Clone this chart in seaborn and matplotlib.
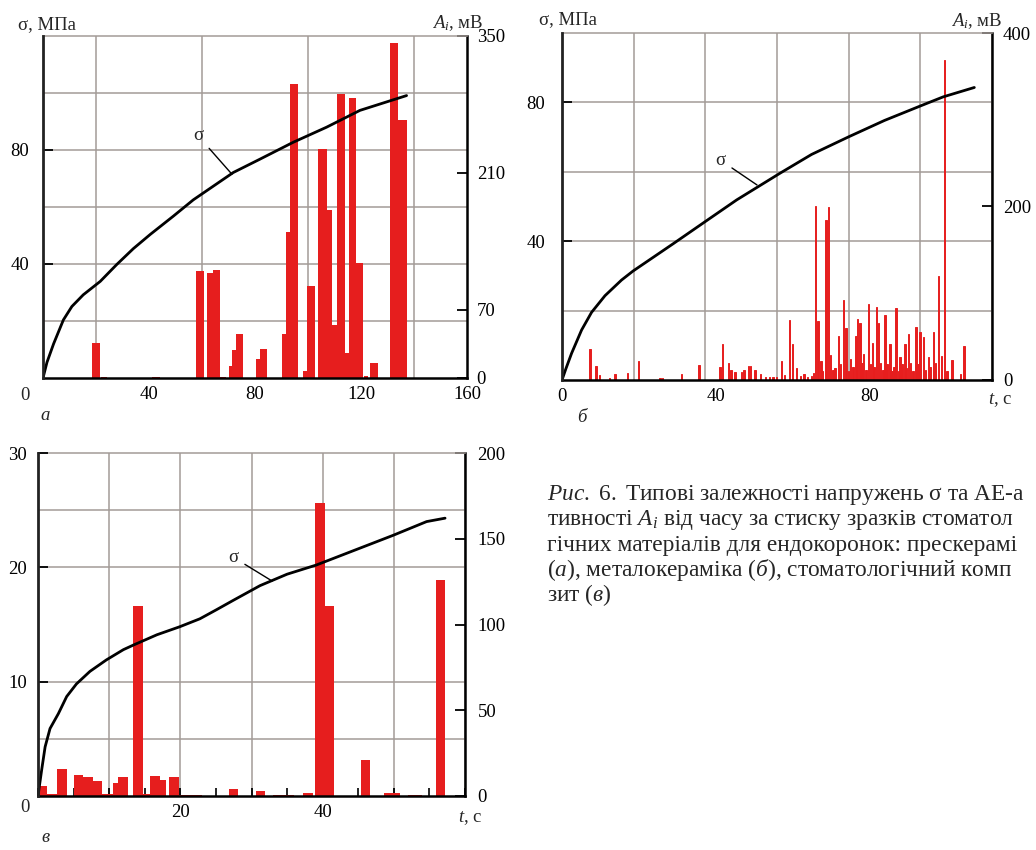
import numpy as np
import pandas as pd
import matplotlib
matplotlib.use("Agg")
import matplotlib.pyplot as plt
import seaborn as sns

# ---------------- data ----------------
# panel а (прескераміка)
a_curve_t = [0, 1.5, 4.0, 7.7, 10.9, 15.2, 21.6, 27.8, 34.1, 40.5, 49.2, 56.7, 71.8, 81.9, 94.4, 107, 119.6, 137.2]
a_curve_s = [0, 5.5, 12, 20.4, 25.1, 29.2, 33.9, 39.8, 45.4, 50.4, 56.8, 62.5, 72.1, 76.8, 82.7, 88, 93.9, 99.1]
a_bar_start = [18.6, 22.0, 41.0, 57.7, 62.0, 64.0, 66.8, 70.2, 71.5, 72.7, 80.5, 82.0, 90.1, 91.7, 93.3,
               98.0, 99.5, 103.8, 107.0, 108.9, 111.0, 113.9, 115.6, 118.3, 121.0, 123.4, 130.9, 134.1]
a_bar_end = [21.5, 24.0, 44.0, 60.8, 64.0, 66.8, 69.0, 71.5, 72.7, 75.4, 82.0, 84.4, 91.7, 93.3, 96.4,
             99.5, 102.6, 107.0, 108.9, 111.0, 113.9, 115.6, 118.3, 120.8, 122.5, 126.5, 134.1, 137.2]
a_bar_amp = [36, 1.5, 0.8, 110, 107, 111, 1, 12, 29, 45, 19, 30, 45, 149, 301,
             7, 94, 234, 172, 54, 291, 26, 287, 118, 2, 15, 343, 264]

# panel б (металокераміка)
b_curve_t = [0, 1, 2.5, 5.1, 7.7, 11.2, 15.5, 18.5, 29, 37.5, 45.5, 56.8, 65, 74.7, 84, 93.4, 99.3, 107.4]
b_curve_s = [0, 3.2, 7.7, 14.4, 19.5, 24.3, 28.8, 31.4, 39.3, 45.8, 51.9, 59.6, 65, 70.1, 74.8, 79, 81.6, 84.3]
b_bar_t = [7.3, 8.9, 9.7, 12.3, 13.8, 17.0, 19.9, 25.5, 26.2, 31.2,
           35.7, 41.2, 41.8, 43.4, 44.0, 45.1, 46.8, 47.4, 48.5, 49.1,
           50.3, 51.7, 53.0, 54.0, 55.0, 55.8, 57.2, 58.0, 59.2, 60.1,
           61.0, 62.2, 63.0, 64.0, 65.0, 65.5, 66.1, 66.7, 67.5, 67.9,
           68.75, 69.4, 70.0, 70.6, 71.1, 71.95, 72.6, 73.3, 74.0, 74.6,
           75.2, 75.8, 76.6, 77.0, 77.6, 78.1, 78.5, 79.2, 79.8, 80.4,
           80.9, 81.3, 81.9, 82.5, 83.0, 83.6, 84.1, 84.7, 85.4, 86.0,
           86.5, 87.0, 87.6, 88.0, 88.6, 89.3, 89.8, 90.2, 90.8, 91.4,
           92.2, 92.7, 93.2, 94.1, 94.7, 95.4, 95.9, 96.7, 97.3, 98.0,
           98.8, 99.6, 100.3, 101.6, 103.8, 104.7]
b_bar_amp = [36, 16.5, 6, 2, 7, 7.7, 22, 2, 2, 7,
             17, 15, 41.5, 20, 11.5, 9.6, 8.8, 12, 16.5, 16,
             11.5, 7, 3, 4, 3, 4, 22, 6, 69, 42,
             14, 5, 7, 4, 5, 8, 200, 68, 22, 10,
             185, 200, 29, 12, 14, 51, 18, 92, 60, 10,
             24, 15, 51, 70, 66, 20, 30, 12, 88, 18,
             43, 15, 84, 66, 20, 12, 75, 18, 42, 10,
             15, 83, 10, 26, 18, 41, 14, 53, 20, 10,
             61, 18, 55, 49, 12, 27, 15, 55, 20, 120,
             28, 369, 10, 23, 7, 39]

# panel в (стоматологічний композит)
c_curve_t = [0, 0.52, 1.0, 1.69, 2.86, 4.03, 5.4, 7.3, 9.6, 12.0, 13.4, 16.7, 19.9, 22.75, 25.1, 27.4,
             31.2, 35, 39.1, 44.5, 49.9, 54.6, 57.2]
c_curve_s = [0, 2.3, 4.3, 5.9, 7.2, 8.7, 9.8, 10.9, 11.9, 12.8, 13.2, 14.1, 14.8, 15.5, 16.3, 17.1,
             18.4, 19.4, 20.2, 21.5, 22.8, 24.0, 24.3]
c_bar_start = [0.2, 1.3, 2.7, 5.1, 6.3, 7.7, 9.0, 10.5, 11.3, 13.3, 14.7, 15.8, 17.1, 18.4, 19.8,
               26.9, 30.7, 33.0, 37.2, 38.9, 40.3, 45.4, 48.6, 52.0, 55.9]
c_bar_end = [1.3, 2.7, 4.1, 6.3, 7.7, 9.0, 10.5, 11.3, 12.7, 14.7, 15.8, 17.1, 18.0, 19.8, 23.0,
             28.1, 31.9, 36.0, 38.6, 40.3, 41.6, 46.6, 50.9, 54.0, 57.2]
c_bar_amp = [6, 1, 16, 12.3, 11, 8.8, 1, 7.8, 11.3, 111, 1, 11.9, 9.4, 10.9, 0.8,
             4, 3, 0.6, 1.5, 171, 111, 21, 1.5, 0.6, 126]

caption_lines = [
    r"$\mathit{Рис.\ 6.}$ Типові залежності напружень σ та АЕ-а",
    r"тивності $A_i$ від часу за стиску зразків стоматол",
    r"гічних матеріалів для ендокоронок: прескерамі",
    r"($\mathit{а}$), металокераміка ($\mathit{б}$), стоматологічний комп",
    r"зит ($\mathit{в}$)",
]

# ---------------- style ----------------
sns.set_theme(style="white", rc={"axes.axisbelow": True})
plt.rcParams["font.family"] = ["Liberation Serif", "DejaVu Serif"]
plt.rcParams["mathtext.fontset"] = "custom"
plt.rcParams["mathtext.rm"] = "Liberation Serif"
plt.rcParams["mathtext.it"] = "Liberation Serif:italic"
plt.rcParams["mathtext.bf"] = "Liberation Serif:bold"

RED = "#e61e1e"
GRID = "#a39b97"
FS = 13.5
W, H = 1036, 850

fig = plt.figure(figsize=(W / 100, H / 100), dpi=100)


def fx(px):
    return px / W


def fy(py):
    return 1 - py / H


def make_panel(rect, xlim, s_max, a_max, n_hgrid, s_ticks, a_ticks,
               x_major, x_labels, x_grid, x_grid_minor, x_ticklen,
               lpad, rpad):
    axA = fig.add_axes(rect)
    axS = axA.twinx()
    axA.yaxis.tick_right()
    axS.yaxis.tick_left()
    axA.set_xlim(*xlim)
    axA.set_ylim(0, a_max)
    axS.set_ylim(0, s_max)

    axA.set_yticks(np.linspace(0, a_max, n_hgrid + 1), minor=True)
    axA.set_yticks(a_ticks)
    axA.set_yticklabels([str(v) for v in a_ticks])
    axS.set_yticks(s_ticks)
    axS.set_yticklabels([str(v) for v in s_ticks])
    axA.set_xticks(x_major)
    axA.set_xticklabels(x_labels)
    if x_grid_minor:
        axA.set_xticks(x_grid, minor=True)
    axA.grid(False)
    axA.grid(True, axis="y", which="minor", color=GRID, lw=1.1)
    axA.grid(True, axis="x", which="minor" if x_grid_minor else "major", color=GRID, lw=1.1)

    axA.tick_params(axis="y", which="major", direction="in", length=7, width=1.3,
                    colors="black", labelsize=FS, pad=rpad, right=True, left=False,
                    labelright=True, labelleft=False)
    axA.tick_params(axis="y", which="minor", length=0, right=False, left=False)
    axS.tick_params(axis="y", which="major", direction="in", length=7, width=1.3,
                    colors="black", labelsize=FS, pad=lpad, left=True, right=False,
                    labelleft=True, labelright=False)
    axA.tick_params(axis="x", which="both", direction="in", length=x_ticklen, width=1.3,
                    colors="black", labelsize=FS, pad=6, bottom=True, top=False)
    if x_grid_minor:
        axA.tick_params(axis="x", which="minor", length=0)

    axA.spines["left"].set_visible(False)
    axA.spines["top"].set_color(GRID)
    axA.spines["top"].set_linewidth(1.1)
    for side in ["bottom", "right"]:
        axA.spines[side].set_color("black")
        axA.spines[side].set_linewidth(1.8)
    for side in ["top", "right", "bottom"]:
        axS.spines[side].set_visible(False)
    axS.spines["left"].set_color("#222222")
    axS.spines["left"].set_linewidth(2.0)
    return axA, axS


def draw_bars(ax, start, end, amp, edge_lw=0):
    start = np.asarray(start, dtype=float)
    end = np.asarray(end, dtype=float)
    edges = np.unique(np.concatenate([start, end])).tolist()
    df = pd.DataFrame({"t": (start + end) / 2, "amp": amp})
    sns.histplot(data=df, x="t", weights="amp", bins=edges, ax=ax, color=RED, alpha=1,
                 edgecolor=RED if edge_lw else "none", linewidth=edge_lw, stat="count")
    ax.set_xlabel("")
    ax.set_ylabel("")


def draw_curve(ax, t, s):
    df = pd.DataFrame({"t": t, "s": s})
    sns.lineplot(data=df, x="t", y="s", ax=ax, color="black", lw=2.0, sort=False)
    ax.set_xlabel("")
    ax.set_ylabel("")


# ---------------- panel а ----------------
A_RECT = [fx(43), fy(378), 424 / W, 342 / H]
axA, axS = make_panel(A_RECT, (0, 160), 120, 350, 6, [40, 80], [0, 70, 210, 350],
                      [40, 80, 120, 160], ["40", "80", "120", "160"],
                      np.arange(0, 161, 20), True, 0, 10, 7)
draw_bars(axA, a_bar_start, a_bar_end, a_bar_amp)
draw_curve(axS, a_curve_t, a_curve_s)
axA.set_xlim(0, 160)
axA.set_ylim(0, 350)
axS.set_ylim(0, 120)
axS.annotate("σ", xy=(71.3, 71.5), xytext=(58.5, 85), fontsize=FS, ha="center", va="center",
             arrowprops=dict(arrowstyle="-", color="black", lw=1.0, shrinkA=3, shrinkB=0))

# ---------------- panel б ----------------
B_RECT = [fx(562), fy(380), 430 / W, 347 / H]
bxA, bxS = make_panel(B_RECT, (0, 112), 100, 400, 5, [40, 80], [0, 200, 400],
                      [0, 40, 80], ["0", "40", "80"],
                      np.linspace(0, 112, 7), True, 0, 12, 8)
b_t = np.asarray(b_bar_t)
BW = 0.36
draw_bars(bxA, b_t - BW / 2, b_t + BW / 2, b_bar_amp, edge_lw=0.7)
draw_curve(bxS, b_curve_t, b_curve_s)
bxA.set_xlim(0, 112)
bxA.set_ylim(0, 400)
bxS.set_ylim(0, 100)
bxS.annotate("σ", xy=(50.8, 56.2), xytext=(41.2, 63.4), fontsize=FS, ha="center", va="center",
             arrowprops=dict(arrowstyle="-", color="black", lw=1.0, shrinkA=3, shrinkB=0))

# ---------------- panel в ----------------
C_RECT = [fx(38), fy(796), 427 / W, 343 / H]
cxA, cxS = make_panel(C_RECT, (0, 60), 30, 200, 6, [10, 20, 30], [0, 50, 100, 150, 200],
                      np.arange(0, 61, 10), ["", "", "20", "", "40", "", ""],
                      None, False, 6, 8, 9)
cxA.set_xticks(np.arange(0, 61, 5), minor=True)
cxA.tick_params(axis="x", which="minor", direction="in", length=6, width=1.2, bottom=True)
draw_bars(cxA, c_bar_start, c_bar_end, c_bar_amp)
draw_curve(cxS, c_curve_t, c_curve_s)
cxA.set_xlim(0, 60)
cxA.set_ylim(0, 200)
cxS.set_ylim(0, 30)
cxS.annotate("σ", xy=(32.9, 18.8), xytext=(27.4, 20.9), fontsize=FS, ha="center", va="center",
             arrowprops=dict(arrowstyle="-", color="black", lw=1.0, shrinkA=3, shrinkB=0))

# ---------------- free texts ----------------
fig.text(fx(47), fy(25), "σ, МПа", fontsize=FS, ha="center", va="center")
fig.text(fx(458), fy(23), r"$A_i$, мВ", fontsize=FS, ha="center", va="center")
fig.text(fx(568), fy(20), "σ, МПа", fontsize=FS, ha="center", va="center")
fig.text(fx(977), fy(21), r"$A_i$, мВ", fontsize=FS, ha="center", va="center")
fig.text(fx(1000), fy(400), r"$t$, с", fontsize=FS, ha="center", va="center")
fig.text(fx(470), fy(818), r"$t$, с", fontsize=FS, ha="center", va="center")

fig.text(fx(25), fy(395), "0", fontsize=FS, ha="center", va="center")
fig.text(fx(25), fy(808), "0", fontsize=FS, ha="center", va="center")

fig.text(fx(45), fy(415), "а", fontsize=FS, style="italic", ha="center", va="center")
fig.text(fx(582), fy(417), "б", fontsize=FS, style="italic", ha="center", va="center")
fig.text(fx(45), fy(838), "в", fontsize=FS, style="italic", ha="center", va="center")

cap_y = [495, 520, 545, 570, 595]
for line, yy in zip(caption_lines, cap_y):
    fig.text(fx(547), fy(yy), line, fontsize=16.8, ha="left", va="center")

fig.savefig("out.png", dpi=100)
